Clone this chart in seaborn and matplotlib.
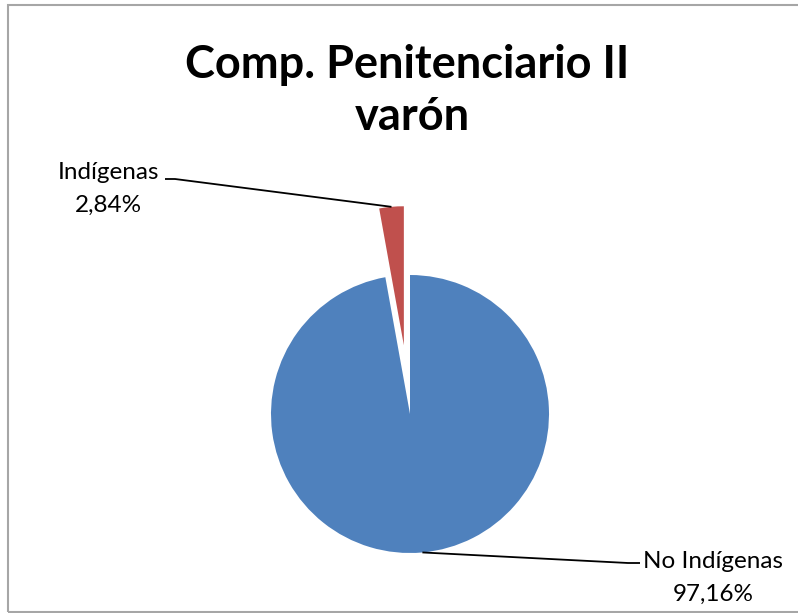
import numpy as np
import matplotlib
matplotlib.use('Agg')
import matplotlib.pyplot as plt
import seaborn as sns
from matplotlib.patches import Rectangle

# Data
categories = ['No Indígenas', 'Indígenas']
shares = [97.16, 2.84]
value_labels = ['97,16%', '2,84%']
colors = ['#4F81BD', '#C0504D']

sns.set_style('white')
plt.rcParams['font.family'] = ['Lato', 'DejaVu Sans']

W, H = 798, 613
fig = plt.figure(figsize=(W / 100, H / 100), dpi=100)
ax = fig.add_axes([0, 0, 1, 1])

# pie geometry in pixel units (y up)
cx, cy, r = 410, H - 414, 139
wedges, _ = ax.pie(shares, colors=colors, startangle=90, counterclock=False,
                   center=(cx, cy), radius=r, explode=[0, 69],
                   wedgeprops=dict(linewidth=0), frame=True)
ax.set_xlim(0, W)
ax.set_ylim(0, H)
ax.axis('off')

# label positions (image coords of text block centre / leader end)
label_pos = {
    'Indígenas': dict(text=(108, 179), end=(165, 179), elbow=(175, 179)),
    'No Indígenas': dict(text=(713, 568), end=(640, 563), elbow=(628, 563)),
}

for w, name, pct in zip(wedges, categories, value_labels):
    mid = np.deg2rad((w.theta1 + w.theta2) / 2)
    ax_x = w.center[0] + w.r * np.cos(mid)
    ax_y = w.center[1] + w.r * np.sin(mid)
    p = label_pos[name]
    xs = [ax_x, p['elbow'][0], p['end'][0]]
    ys = [ax_y, H - p['elbow'][1], H - p['end'][1]]
    ax.plot(xs, ys, color='black', lw=1.3, solid_capstyle='butt')
    tx, ty = p['text']
    ax.text(tx, H - ty, name, ha='center', va='baseline', fontsize=17.5, color='black')
    ax.text(tx, H - ty - 33, pct, ha='center', va='baseline', fontsize=17.5, color='black')

# title
fig.text(407 / W, 1 - 78 / H, 'Comp. Penitenciario II', ha='center', va='baseline',
         fontsize=32.5, fontweight='bold', color='black')
fig.text(412 / W, 1 - 130 / H, 'varón', ha='center', va='baseline',
         fontsize=32.5, fontweight='bold', color='black')

# chart border
fig.patches.append(Rectangle((8 / W, 1 / H), 1.2, 1 - 6 / H, transform=fig.transFigure,
                             fill=False, edgecolor='#A6A6A6', lw=1.5))

fig.savefig('out.png', dpi=100)
